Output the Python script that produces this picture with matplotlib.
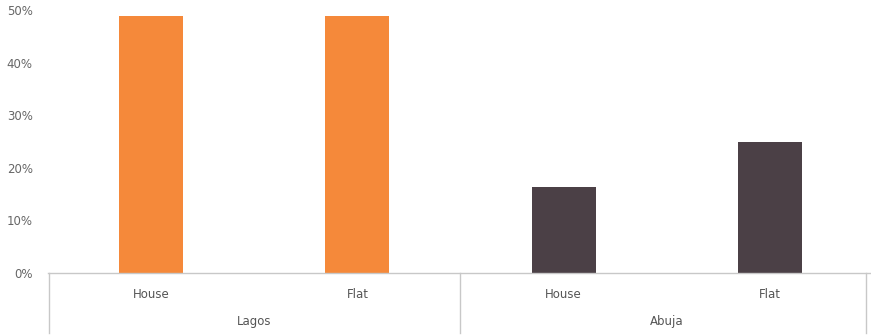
import numpy as np
import matplotlib.pyplot as plt
from matplotlib.lines import Line2D

cities = ['Lagos', 'Abuja']
types = ['House', 'Flat']
lagos = [48.8, 48.8]
abuja = [16.4, 25.0]
colours = ['#F5893A', '#4B4046']

W, H = 871, 335
fig = plt.figure(figsize=(W / 100, H / 100), dpi=100)
ax = fig.add_axes([48 / W, 62 / H, 1 - 46 / W, 263 / H])

x = np.arange(4)
vals = lagos + abuja
cols = [colours[0]] * 2 + [colours[1]] * 2
ax.bar(x, vals, width=0.31, color=cols, zorder=2)

ax.set_xlim(-0.5, 3.5)
ax.set_ylim(0, 50)
ax.set_yticks(np.arange(0, 51, 10))
ax.set_yticklabels([f'{v}%' for v in range(0, 51, 10)])
ax.tick_params(axis='y', length=0, labelsize=8.5, labelcolor='#666666', pad=11)
ax.set_xticks([])
for s in ['top', 'right', 'left']:
    ax.spines[s].set_visible(False)
ax.spines['bottom'].set_color('#c8c8c8')
ax.spines['bottom'].set_linewidth(1)

txt = dict(ha='center', va='center', fontsize=8.5, color='#555555',
           transform=ax.get_xaxis_transform())
for i, lab in enumerate(types * 2):
    ax.text(x[i], -21 / 263, lab, **txt)
for j, c in enumerate(cities):
    ax.text(2 * j + 0.5, -48 / 263, c, **txt)

# group separators below the axis
for px in [48.5, 460, 866]:
    fig.add_artist(Line2D([px / W, px / W], [2 / H, 62 / H],
                          color='#c8c8c8', lw=1))

fig.savefig('out.png', dpi=100)
